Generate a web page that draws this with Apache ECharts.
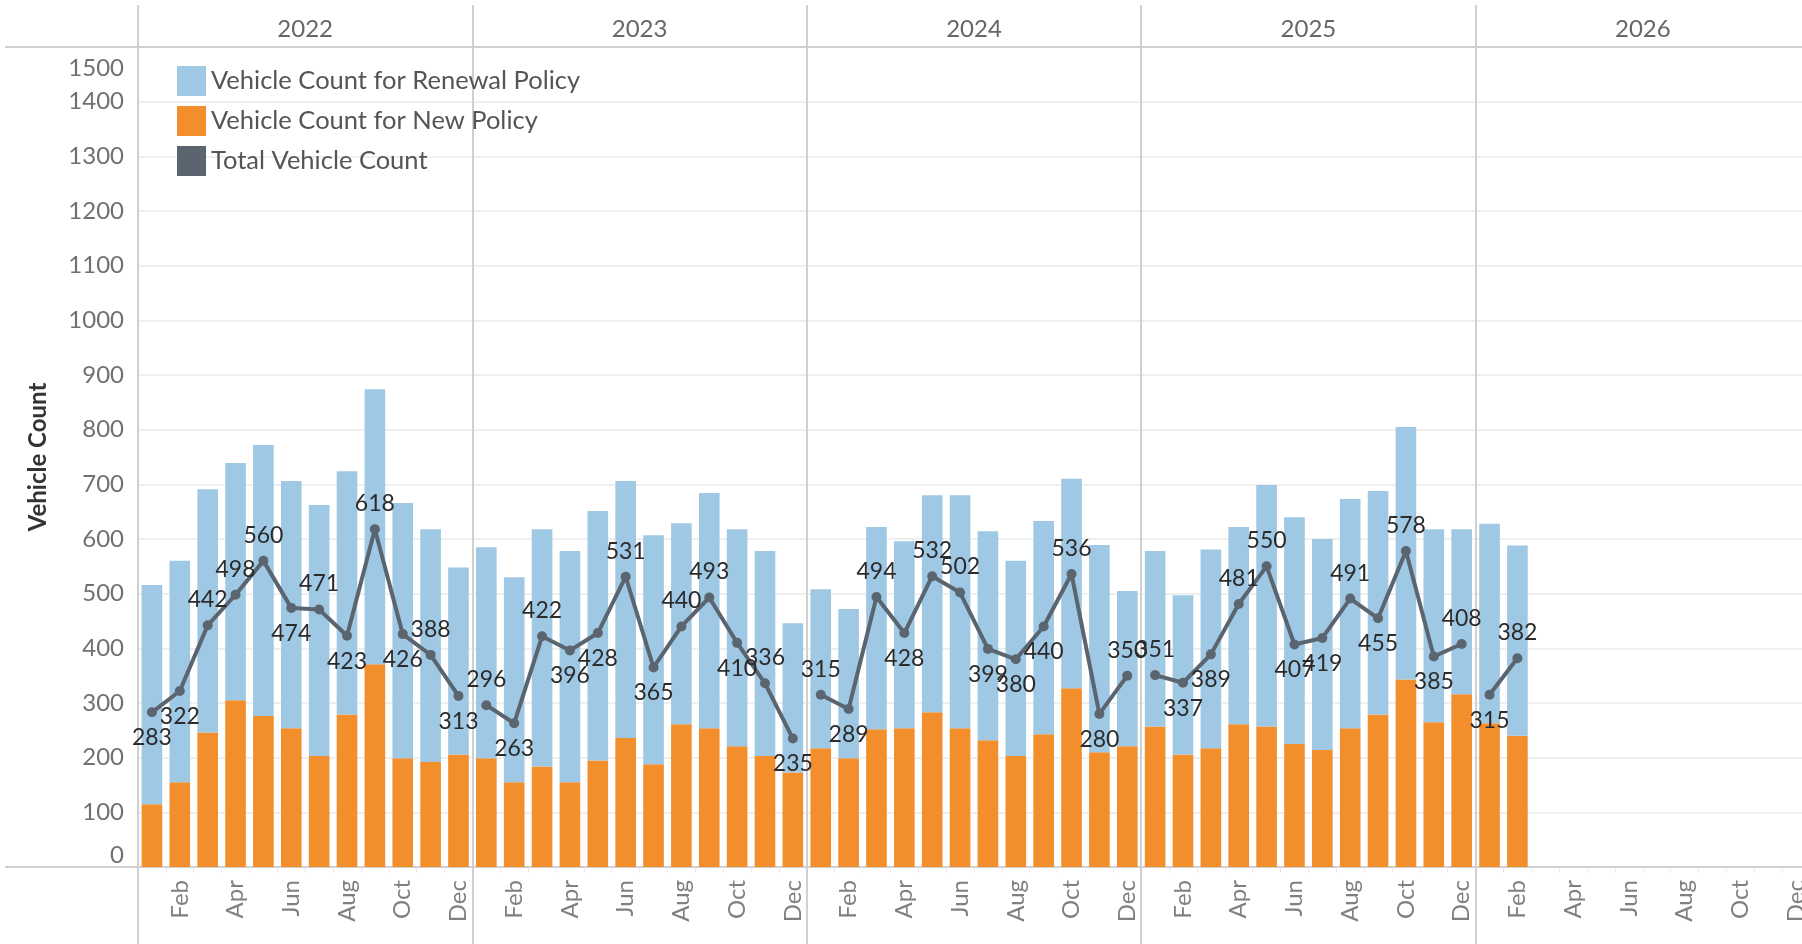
<!DOCTYPE html>
<html>
<head>
<meta charset="utf-8">
<title>Vehicle Count</title>
<script src="https://cdn.jsdelivr.net/npm/echarts@6/dist/echarts.min.js"></script>
<style>
  html, body { margin: 0; padding: 0; background: #fff; overflow: hidden; }
  /* the last pane runs a little past the right edge, as in the original */
  #main { width: 1810px; height: 944px; }
</style>
</head>
<body>
<div id="main"></div>
<script>
// data, Jan 2022 .. Feb 2026
var years = ['2022', '2023', '2024', '2025', '2026'];
var monthNames = ['Jan', 'Feb', 'Mar', 'Apr', 'May', 'Jun', 'Jul', 'Aug', 'Sep', 'Oct', 'Nov', 'Dec'];

var newPolicy = [
  115, 155, 246, 305, 276, 254, 203, 279, 371, 199, 192, 206,
  199, 155, 184, 155, 195, 236, 188, 261, 254, 221, 203, 173,
  217, 199, 252, 254, 283, 254, 232, 203, 243, 327, 210, 221,
  257, 206, 217, 261, 257, 225, 214, 254, 279, 343, 265, 316,
  263, 240
];
var renewalPolicy = [
  401, 405, 445, 434, 496, 452, 459, 445, 503, 467, 426, 342,
  386, 375, 434, 423, 456, 470, 419, 368, 430, 397, 375, 273,
  291, 273, 370, 342, 397, 426, 382, 357, 390, 383, 379, 284,
  321, 291, 364, 361, 442, 415, 386, 419, 409, 462, 353, 302,
  365, 348
];
var totalVehicles = [
  283, 322, 442, 498, 560, 474, 471, 423, 618, 426, 388, 313,
  296, 263, 422, 396, 428, 531, 365, 440, 493, 410, 336, 235,
  315, 289, 494, 428, 532, 502, 399, 380, 440, 536, 280, 350,
  351, 337, 389, 481, 550, 407, 419, 491, 455, 578, 385, 408,
  315, 382
];
var yTicks = { min: 0, max: 1500, step: 100 };

var font = 'Lato, "Open Sans", sans-serif';
var blue = '#9fc8e5', orange = '#f28e2b', slate = '#5b6570';

var categories = [];
years.forEach(function (y) {
  monthNames.forEach(function (m) { categories.push(y + '-' + m); });
});

function pad(arr) {
  return categories.map(function (c, i) { return i < arr.length ? arr[i] : '-'; });
}

// one line per year, so the line breaks between the year panes
var lineSeries = years.map(function (y, yi) {
  var data = categories.map(function (c, i) {
    if (Math.floor(i / 12) !== yi || i >= totalVehicles.length) return '-';
    var v = totalVehicles[i];
    var m = i % 12;
    var nb = [];
    if (m > 0) nb.push(totalVehicles[i - 1]);
    if (m < 11 && i + 1 < totalVehicles.length) nb.push(totalVehicles[i + 1]);
    var avg = nb.reduce(function (a, b) { return a + b; }, 0) / nb.length;
    return { value: v, label: { position: v >= avg - 3 ? 'top' : 'bottom' } };
  });
  return {
    name: 'Total Vehicle Count',
    type: 'line',
    data: data,
    z: 5,
    symbol: 'circle',
    symbolSize: 10,
    lineStyle: { color: slate, width: 4 },
    itemStyle: { color: slate },
    label: {
      show: true,
      distance: 9,
      fontFamily: font,
      fontSize: 23,
      color: '#2b2b2b'
    }
  };
});

var myChart = echarts.init(document.getElementById('main'));

var yLabelStyle = { fontFamily: font, fontSize: 24, color: '#707070' };

var option = {
  animation: false,
  backgroundColor: '#fff',
  textStyle: { fontFamily: font },
  grid: { left: 138, right: 0, top: 47, bottom: 77, containLabel: false },
  legend: {
    orient: 'vertical',
    left: 172,
    top: 61,
    icon: 'rect',
    itemWidth: 29,
    itemHeight: 30,
    itemGap: 10,
    textStyle: { fontFamily: font, fontSize: 25.5, color: '#555' },
    data: ['Vehicle Count for Renewal Policy', 'Vehicle Count for New Policy', 'Total Vehicle Count']
  },
  xAxis: [
    {
      type: 'category',
      data: categories,
      position: 'bottom',
      axisLine: { show: true, lineStyle: { color: '#d0d0d0', width: 2 } },
      axisTick: { show: true, interval: 0, length: 6, lineStyle: { color: '#e8e8e8' } },
      axisLabel: {
        interval: function (index) { return index % 2 === 1; },
        rotate: 90,
        margin: 13,
        fontFamily: font,
        fontSize: 24,
        color: '#808080',
        formatter: function (v) { return v.split('-')[1]; }
      }
    },
    {
      // year header
      type: 'category',
      data: years,
      position: 'top',
      axisLine: { show: true, lineStyle: { color: '#d0d0d0', width: 2 } },
      axisTick: { show: true, interval: 0, length: 42, lineStyle: { color: '#d0d0d0', width: 2 } },
      axisLabel: { margin: 6, fontFamily: font, fontSize: 24, color: '#666' },
      splitLine: { show: true, interval: 0, lineStyle: { color: '#d0d0d0', width: 2 } }
    },
    {
      // year pane dividers below the axis
      type: 'category',
      data: years,
      position: 'bottom',
      axisLine: { show: false },
      axisTick: { show: true, interval: 0, length: 77, lineStyle: { color: '#d0d0d0', width: 2 } },
      axisLabel: { show: false },
      splitLine: { show: false }
    }
  ],
  yAxis: {
    type: 'value',
    min: yTicks.min,
    max: yTicks.max,
    interval: yTicks.step,
    name: 'Vehicle Count',
    nameLocation: 'middle',
    nameRotate: 90,
    nameGap: 88,
    nameTextStyle: { fontFamily: font, fontSize: 24, fontWeight: 'bold', color: '#333' },
    axisLine: { show: false },
    axisTick: { show: false },
    axisLabel: {
      margin: 14,
      fontFamily: font,
      fontSize: 24,
      color: '#707070',
      formatter: function (v) {
        return v === yTicks.max ? '{top|' + v + '}' : String(v);
      },
      rich: {
        top: { fontFamily: font, fontSize: 24, color: '#707070', padding: [9, 0, 0, 0] }
      },
      verticalAlignMinLabel: 'bottom',
      verticalAlignMaxLabel: 'top'
    },
    splitLine: { lineStyle: { color: '#efefef', width: 2 } }
  },
  graphic: [
    { type: 'line', shape: { x1: 5, y1: 47, x2: 138, y2: 47 }, style: { stroke: '#d0d0d0', lineWidth: 2 } },
    { type: 'line', shape: { x1: 5, y1: 867, x2: 138, y2: 867 }, style: { stroke: '#d0d0d0', lineWidth: 2 } }
  ],
  series: [
    {
      name: 'Vehicle Count for New Policy',
      type: 'bar',
      stack: 'vehicles',
      barWidth: '74%',
      itemStyle: { color: orange },
      data: pad(newPolicy)
    },
    {
      name: 'Vehicle Count for Renewal Policy',
      type: 'bar',
      stack: 'vehicles',
      barWidth: '74%',
      itemStyle: { color: blue },
      data: pad(renewalPolicy)
    }
  ].concat(lineSeries)
};

myChart.setOption(option);
</script>
</body>
</html>
